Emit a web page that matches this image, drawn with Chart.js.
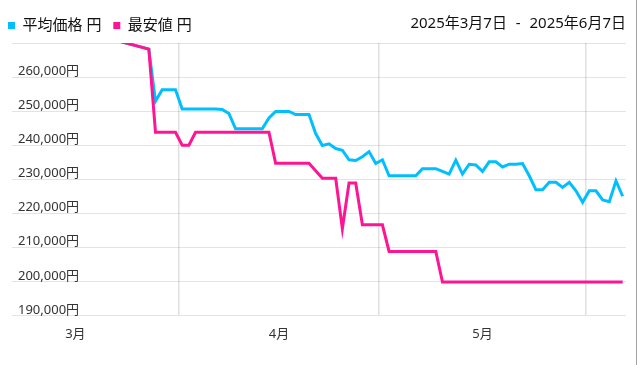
<!DOCTYPE html>
<html lang="ja">
<head>
<meta charset="utf-8">
<title>価格推移</title>
<script src="https://cdn.jsdelivr.net/npm/chart.js@4.4.1/dist/chart.umd.min.js"></script>
<style>
    body{ margin:0; background:#fff; }
    #wrap{ position:relative; width:636px; height:365px; border-right:1px solid #a3a3a3; }
    #range{
        position:absolute; top:12px; right:10px;
        font:15px 'Noto Sans','Noto Sans CJK JP',sans-serif; line-height:20px;
        color:#111; word-spacing:5px;
    }
</style>
</head>
<body>
<div id="wrap">
    <canvas id="priceChart" width="636" height="365"></canvas>
    <div id="range">2025年3月7日 - 2025年6月7日</div>
</div>

<script>
// -------- Data --------

const startDate = new Date(2025, 2, 7);
const endDate = new Date(2025, 5, 7);

const monthLabels = ["3月", "4月", "5月"];

// daily values (円), null = no data that day
const avgPrice = [
    278700, null, null, null, null, null, null, null, null, null,
    null, null, null, null, null, null, null, null, null, null,
    268200, 252900, 256300, 256300, 256300, 250600, 250600, 250600, 250600, 250600,
    250600, 250500, 249300, 244800, 244800, 244800, 244800, 244800, 248000, 249900,
    249900, 249900, 249000, 249000, 249000, 243400, 239900, 240400, 239000, 238500,
    235700, 235500, 236600, 238100, 234600, 235700, 231000, 231000, 231000, 231000,
    231000, 233100, 233100, 233100, 232300, 231500, 235600, 231500, 234400, 234200,
    232300, 235100, 235100, 233600, 234400, 234400, 234600, 231000, 226900, 226900,
    229100, 229100, 227600, 229100, 226600, 223200, 226600, 226600, 223900, 223400,
    229500, 225000
];

const minPrice = [
    278700, null, null, null, null, null, null, null, null, null,
    null, null, null, null, null, null, null, null, null, null,
    268200, 243800, 243800, 243800, 243800, 240000, 240000, 243800, 243800, 243800,
    243800, 243800, 243800, 243800, 243800, 243800, 243800, 243800, 243800, 234700,
    234700, 234700, 234700, 234700, 234700, 232500, 230300, 230300, 230300, 215500,
    228900, 228900, 216600, 216600, 216600, 216600, 208800, 208800, 208800, 208800,
    208800, 208800, 208800, 208800, 199800, 199800, 199800, 199800, 199800, 199800,
    199800, 199800, 199800, 199800, 199800, 199800, 199800, 199800, 199800, 199800,
    199800, 199800, 199800, 199800, 199800, 199800, 199800, 199800, 199800, 199800,
    199800, 199800
];

const yMin = 190000;
const yMax = 270000;
const yStep = 10000;

// -------- Helpers --------

const DAY = 24 * 60 * 60 * 1000;

function dayOffset(d){
    return (d - startDate) / DAY;
}

// month starts (grid lines) and month middles (labels), in days from start
let monthStart = [];
let monthMid = [];
for(let m = 3; m <= 5; m++){
    let first = new Date(2025, m, 1);
    let prevFirst = new Date(2025, m - 1, 1);
    monthStart.push(dayOffset(first));
    monthMid.push(dayOffset(prevFirst) + (dayOffset(first) - dayOffset(prevFirst)) / 2);
}
monthStart = monthStart.filter(v => v > 0 && v < dayOffset(endDate));

function toPoints(values){
    // each sample sits at noon of its day
    return values.map((v, i) => ({ x: i + 0.5, y: v }));
}

// -------- Chart --------

window.onload = function(){

    const ctx = document.getElementById("priceChart").getContext("2d");
    const baseLabels = Chart.defaults.plugins.legend.labels.generateLabels;

    new Chart(ctx, {
        type: "line",
        data: {
            datasets: [{
                label: "平均価格 円",
                data: toPoints(avgPrice),
                borderColor: "#00bfff",
                backgroundColor: "#00bfff",
                borderWidth: 3,
                pointRadius: 0,
                tension: 0,
                spanGaps: true,
                order: 1
            }, {
                label: "最安値 円",
                data: toPoints(minPrice),
                borderColor: "#ff1493",
                backgroundColor: "#ff1493",
                borderWidth: 3,
                pointRadius: 0,
                tension: 0,
                spanGaps: true,
                order: 0
            }]
        },
        options: {
            responsive: false,
            animation: false,
            layout: {
                padding: { top: 10, left: 0, right: 10, bottom: 20 }
            },
            plugins: {
                tooltip: { enabled: false },
                legend: {
                    position: "top",
                    align: "start",
                    labels: {
                        boxWidth: 7,
                        boxHeight: 7,
                        padding: 8,
                        color: "#111",
                        font: { family: "'Noto Sans', 'Noto Sans CJK JP'", size: 15 },
                        sort: (a, b) => a.datasetIndex - b.datasetIndex,
                        generateLabels: function(chart){
                            return baseLabels(chart).map(function(item){
                                item.lineWidth = 0;
                                item.text = item.text + " ";
                                return item;
                            });
                        }
                    }
                }
            },
            scales: {
                x: {
                    type: "linear",
                    min: 0,
                    max: dayOffset(endDate),
                    grid: { display: false },
                    border: { display: false },
                    afterBuildTicks: function(scale){
                        scale.ticks = monthMid.map(v => ({ value: v }));
                    },
                    ticks: {
                        autoSkip: false,
                        maxRotation: 0,
                        padding: 3,
                        color: "#333",
                        font: { family: "'Noto Sans', 'Noto Sans CJK JP'", size: 13 },
                        callback: (value, index) => monthLabels[index]
                    }
                },
                xg: {
                    type: "linear",
                    position: "bottom",
                    min: 0,
                    max: dayOffset(endDate),
                    afterBuildTicks: function(scale){
                        scale.ticks = monthStart.map(v => ({ value: v }));
                    },
                    grid: { color: "rgba(0,0,0,0.12)", lineWidth: 1.5, drawTicks: false },
                    border: { display: false },
                    ticks: { display: false }
                },
                y: {
                    min: yMin,
                    max: yMax,
                    grid: { color: "rgba(0,0,0,0.11)", drawTicks: false },
                    border: { display: false },
                    ticks: {
                        stepSize: yStep,
                        mirror: true,
                        padding: 6,
                        color: "#333",
                        font: { family: "'Noto Sans', 'Noto Sans CJK JP'", size: 13, lineHeight: 0.85 },
                        callback: function(value){
                            if(value >= yMax) return "";
                            return [value.toLocaleString("en-US") + "円", ""];
                        }
                    }
                }
            }
        }
    });

};
</script>
</body>
</html>
